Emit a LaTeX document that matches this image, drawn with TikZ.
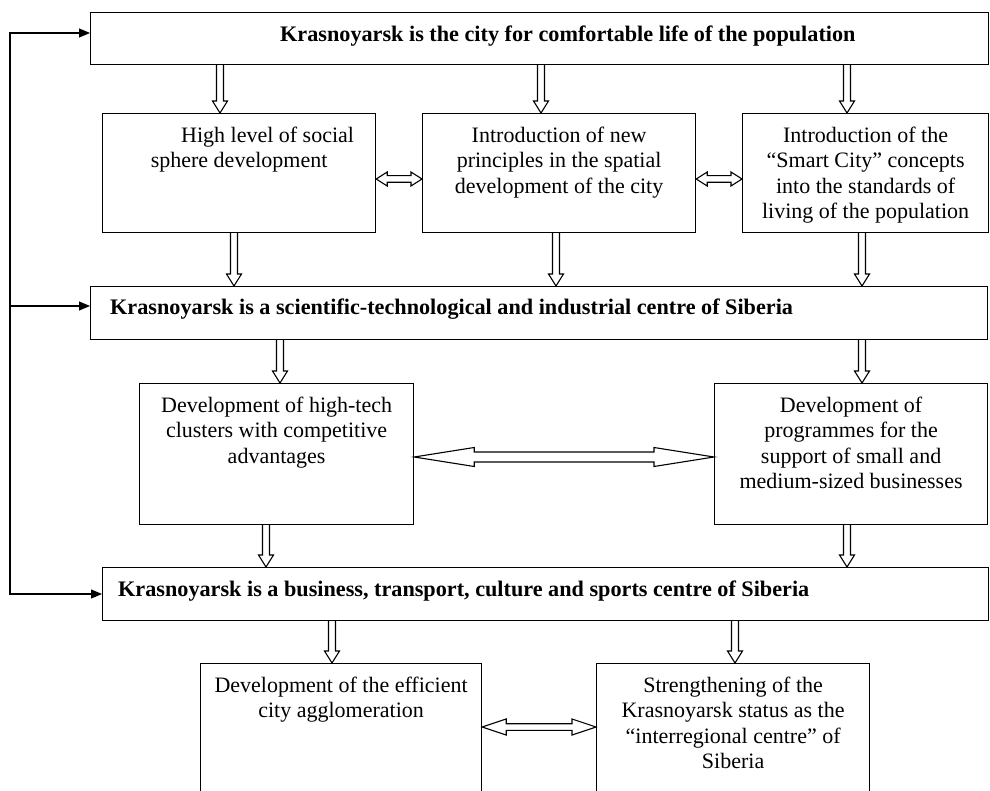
\documentclass[tikz,border=0pt]{standalone}
\usepackage{fontspec}
\setmainfont{Liberation Serif}
\usetikzlibrary{calc,arrows.meta}
\tikzset{
 box/.style={draw, line width=1.2pt, rectangle, inner sep=0pt, anchor=north west},
 txt/.style={inner sep=0pt, align=center, font=\fontsize{22}{25.5}\selectfont, anchor=north},
 ttl/.style={inner sep=0pt, anchor=base west, font=\fontsize{22.2}{26}\selectfont\bfseries},
 hollow/.style={draw, line width=1.1pt, line join=miter},
 fbline/.style={line width=1.2pt},
 fbtip/.tip={Triangle[length=11pt,width=9pt]},
}
\newcommand\boxat[5]{\node[box, minimum width=#4pt, minimum height=#5pt] (#1) at (#2,#3) {};}
\newcommand\varr[3]{%
 \coordinate (ax) at (#1,0);
 \draw[hollow] ($(ax|-#2.south)+(-3.5,0)$) -- ($(ax|-#3.north)+(-3.5,-12)$) -- ($(ax|-#3.north)+(-7.5,-12)$) -- (ax|-#3.north) -- ($(ax|-#3.north)+(7.5,-12)$) -- ($(ax|-#3.north)+(3.5,-12)$) -- ($(ax|-#2.south)+(3.5,0)$);
}
\newcommand\harr[6]{%
 \coordinate (ay) at (0,#3);
 \coordinate (aL) at (#1.east|-ay);
 \coordinate (aR) at (#2.west|-ay);
 \draw[hollow] (aL) -- ($(aL)+(#4,-#5)$) -- ($(aL)+(#4,-#6)$) -- ($(aR)+(-#4,-#6)$) -- ($(aR)+(-#4,-#5)$) -- (aR) -- ($(aR)+(-#4,#5)$) -- ($(aR)+(-#4,#6)$) -- ($(aL)+(#4,#6)$) -- ($(aL)+(#4,#5)$) -- cycle;
}
\begin{document}
\begin{tikzpicture}[x=1pt,y=-1pt]
\clip (0,0) rectangle (990,791);
% boxes
\boxat{top}{90}{12}{898}{52}
\boxat{b1}{102}{113}{273}{119}
\boxat{b2}{422}{113}{273}{119}
\boxat{b3}{742}{113}{246}{119}
\boxat{bar2}{90}{286}{897}{53}
\boxat{b4}{139}{383}{274}{141}
\boxat{b5}{714}{383}{273}{141}
\boxat{bar3}{102}{567}{886}{53}
\boxat{b6}{200}{663}{281}{170}
\boxat{b7}{596}{663}{273}{170}
% titles
\node[ttl] (t0) at (280,42) {Krasnoyarsk is the city for comfortable life of the population};
\node[ttl] (t2) at (110,315) {Krasnoyarsk is a scientific-technological and industrial centre of Siberia};
\node[ttl] (t3) at (118,596) {Krasnoyarsk is a business, transport, culture and sports centre of Siberia};
% texts
\node[txt] (x1) at ($(b1.north)+(0,12)$) {\rule{0pt}{17pt}\hspace*{57pt}High level of social\\sphere development};
\node[txt] (x2) at ($(b2.north)+(0,12)$) {\rule{0pt}{17pt}Introduction of new\\principles in the spatial\\development of the city};
\node[txt] (x3) at ($(b3.north)+(0,12)$) {\rule{0pt}{17pt}Introduction of the\\“Smart City” concepts\\into the standards of\\living of the population};
\node[txt] (x4) at ($(b4.north)+(0,12)$) {\rule{0pt}{17pt}Development of high-tech\\clusters with competitive\\advantages};
\node[txt] (x5) at ($(b5.north)+(0,12)$) {\rule{0pt}{17pt}Development of\\programmes for the\\support of small and\\medium-sized businesses};
\node[txt] (x6) at ($(b6.north)+(0,12)$) {\rule{0pt}{17pt}Development of the efficient\\city agglomeration};
\node[txt] (x7) at ($(b7.north)+(0,12)$) {\rule{0pt}{17pt}Strengthening of the\\Krasnoyarsk status as the\\“interregional centre” of\\Siberia};
% vertical hollow arrows
\varr{220}{top}{b1} \varr{541}{top}{b2} \varr{847}{top}{b3}
\varr{234}{b1}{bar2} \varr{556}{b2}{bar2} \varr{862}{b3}{bar2}
\varr{280}{bar2}{b4} \varr{862}{bar2}{b5}
\varr{266}{b4}{bar3} \varr{847}{b5}{bar3}
\varr{332}{bar3}{b6} \varr{735}{bar3}{b7}
% horizontal hollow double arrows
\harr{b1}{b2}{179}{11}{7}{3.3}
\harr{b2}{b3}{179}{11}{7}{3.3}
\harr{b4}{b5}{457}{60}{9.5}{5}
\harr{b6}{b7}{727}{24}{8}{3.3}
% feedback line
\coordinate (fbTop) at (10,33);
\coordinate (fbMid) at (10,306);
\coordinate (fbBot) at (10,594);
\draw[fbline, fbtip-fbtip] (fbTop-|top.west) -- (fbTop) -- (fbBot) -- (fbBot-|bar3.west);
\draw[fbline, -fbtip] (fbMid) -- (fbMid-|bar2.west);
\end{tikzpicture}
\end{document}
